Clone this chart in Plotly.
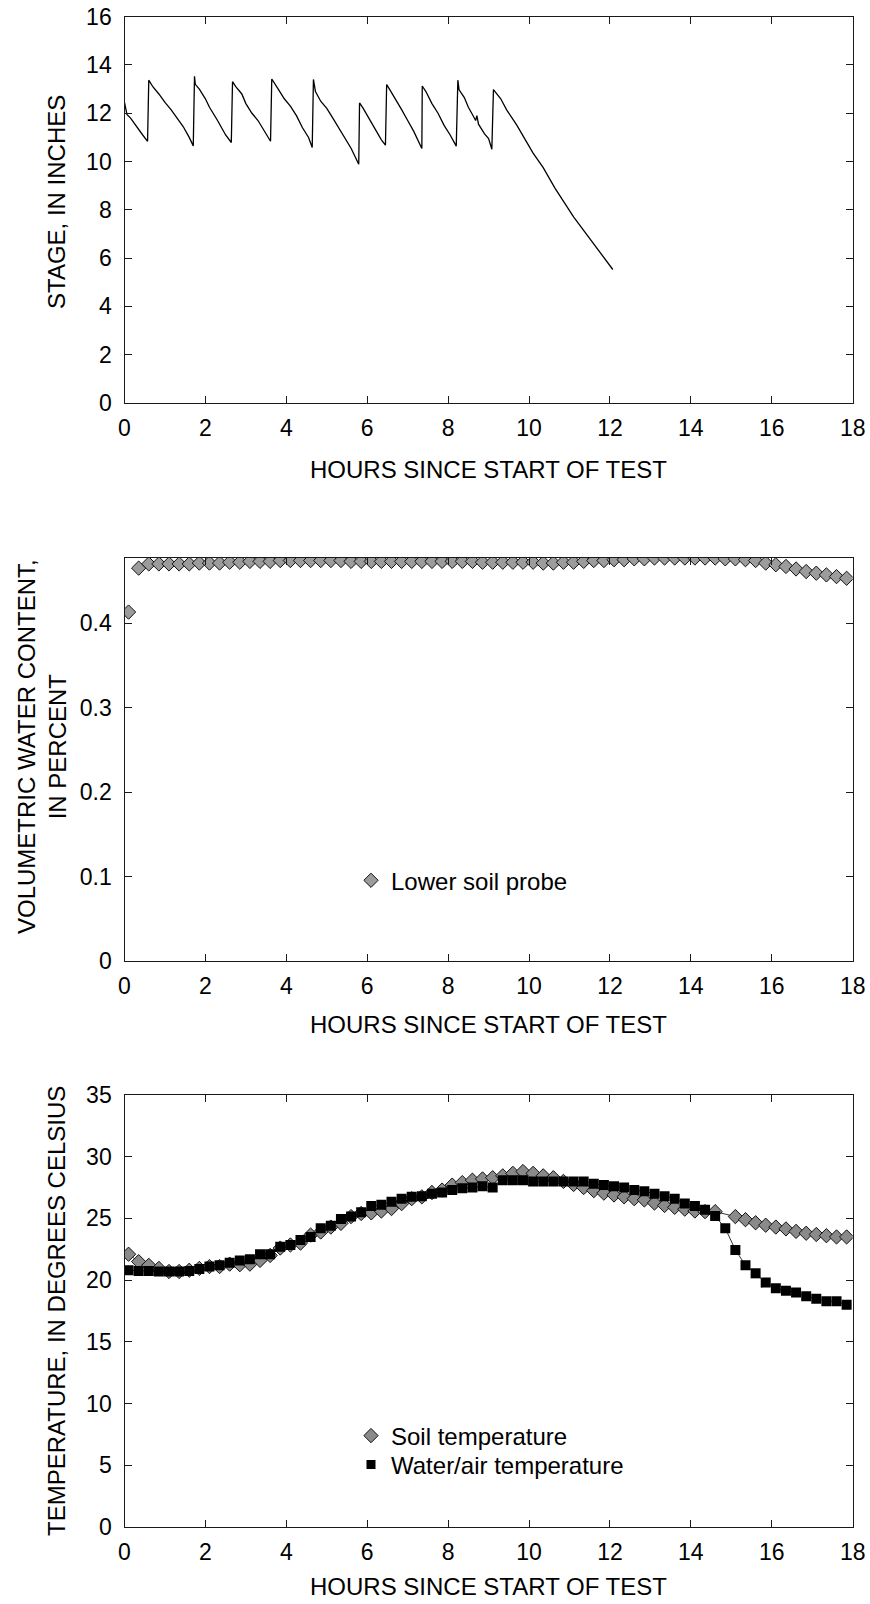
import plotly.graph_objects as go

# ---------------- data ----------------
stage_hours = [0.00, 0.03, 0.06, 0.15, 0.25, 0.35, 0.45, 0.57,
               0.60, 0.70, 0.85, 1.00, 1.15, 1.30, 1.45, 1.60, 1.70,
               1.73, 1.75, 1.85, 2.00, 2.10, 2.20, 2.30, 2.40, 2.50, 2.64,
               2.67, 2.75, 2.90, 3.00, 3.15, 3.30, 3.45, 3.61,
               3.64, 3.68, 3.80, 3.95, 4.10, 4.25, 4.40, 4.55, 4.64,
               4.67, 4.72, 4.85, 5.00, 5.15, 5.30, 5.45, 5.60, 5.79,
               5.81, 5.90, 6.05, 6.20, 6.35, 6.45,
               6.48, 6.55, 6.70, 6.85, 7.00, 7.15, 7.35,
               7.36, 7.45, 7.60, 7.75, 7.90, 8.05, 8.20,
               8.24, 8.27, 8.40, 8.50, 8.60, 8.68, 8.71, 8.75, 8.90, 9.00, 9.08,
               9.12, 9.30, 9.45, 9.70, 9.90, 10.10, 10.35, 10.64, 11.10, 11.59, 12.07]
stage_inches = [12.45, 12.20, 11.95, 11.80, 11.55, 11.35, 11.10, 10.84,
                13.37, 13.10, 12.80, 12.45, 12.15, 11.80, 11.45, 11.00, 10.65,
                13.53, 13.20, 13.00, 12.60, 12.25, 12.00, 11.70, 11.40, 11.10, 10.79,
                13.31, 13.10, 12.80, 12.40, 12.00, 11.70, 11.30, 10.84,
                13.42, 13.30, 13.00, 12.60, 12.30, 11.90, 11.40, 11.00, 10.58,
                13.40, 12.90, 12.50, 12.20, 11.80, 11.40, 11.00, 10.55, 9.89,
                12.43, 12.20, 11.75, 11.30, 10.90, 10.68,
                13.19, 13.00, 12.60, 12.15, 11.70, 11.25, 10.54,
                13.13, 12.90, 12.40, 12.00, 11.50, 11.10, 10.64,
                13.37, 12.97, 12.65, 12.25, 11.95, 11.70, 11.90, 11.55, 11.15, 10.95, 10.51,
                12.98, 12.60, 12.13, 11.50, 10.95, 10.35, 9.75, 8.90, 7.71, 6.61, 5.53]

probe_hours = [0.10, 0.35, 0.60, 0.85, 1.10, 1.35, 1.60, 1.85, 2.10, 2.35, 2.60, 2.85,
               3.10, 3.35, 3.60, 3.85, 4.10, 4.35, 4.60, 4.85, 5.10, 5.35, 5.60, 5.85,
               6.10, 6.35, 6.60, 6.85, 7.10, 7.35, 7.60, 7.85, 8.10, 8.35, 8.60, 8.85,
               9.10, 9.35, 9.60, 9.85, 10.10, 10.35, 10.60, 10.85, 11.10, 11.35, 11.60, 11.85,
               12.10, 12.35, 12.60, 12.85, 13.10, 13.35, 13.60, 13.85, 14.10, 14.35, 14.60, 14.85,
               15.10, 15.35, 15.60, 15.85, 16.10, 16.35, 16.60, 16.85, 17.10, 17.35, 17.60, 17.85]
water_content = [0.413, 0.465, 0.470, 0.470, 0.470, 0.470, 0.470, 0.471, 0.471, 0.471, 0.472, 0.472,
                 0.473, 0.473, 0.473, 0.474, 0.474, 0.474, 0.474, 0.474, 0.474, 0.474, 0.473, 0.473,
                 0.473, 0.473, 0.473, 0.473, 0.473, 0.473, 0.473, 0.473, 0.473, 0.473, 0.473, 0.472,
                 0.472, 0.472, 0.472, 0.472, 0.472, 0.471, 0.471, 0.472, 0.472, 0.473, 0.474, 0.474,
                 0.475, 0.475, 0.476, 0.476, 0.477, 0.477, 0.477, 0.477, 0.477, 0.477, 0.477, 0.476,
                 0.476, 0.475, 0.474, 0.471, 0.469, 0.467, 0.464, 0.461, 0.459, 0.457, 0.455, 0.453]

temp_hours = probe_hours
soil_temp = [22.1, 21.5, 21.2, 20.95, 20.7, 20.7, 20.8, 20.95, 21.1, 21.1, 21.3, 21.25,
             21.3, 21.6, 22.0, 22.6, 22.85, 23.0, 23.65, 23.9, 24.3, 24.6, 25.15, 25.4,
             25.45, 25.6, 25.8, 26.2, 26.6, 26.75, 27.1, 27.3, 27.7, 27.9, 28.1, 28.2,
             28.3, 28.45, 28.65, 28.8, 28.65, 28.45, 28.3, 28.0, 27.75, 27.5, 27.25, 27.05,
             26.9, 26.75, 26.6, 26.5, 26.25, 26.05, 25.9, 25.75, 25.6, 25.55, 25.55, None,
             25.15, 24.9, 24.65, 24.45, 24.3, 24.15, 23.95, 23.8, 23.7, 23.6, 23.5, 23.5]
water_air_temp = [20.8, 20.75, 20.75, 20.7, 20.7, 20.7, 20.75, 20.9, 21.1, 21.2, 21.4, 21.6,
                  21.7, 22.1, 22.1, 22.7, 22.85, 23.25, 23.5, 24.2, 24.4, 24.95, 25.15, 25.5,
                  26.0, 26.1, 26.35, 26.6, 26.75, 26.8, 27.0, 27.1, 27.3, 27.45, 27.5, 27.6,
                  27.5, 28.1, 28.1, 28.1, 28.0, 28.0, 28.0, 28.0, 28.0, 28.0, 27.8, 27.7,
                  27.6, 27.5, 27.3, 27.2, 27.0, 26.8, 26.6, 26.2, 26.0, 25.7, 25.2, 24.2,
                  22.45, 21.2, 20.55, 19.8, 19.35, 19.15, 19.0, 18.7, 18.5, 18.3, 18.3, 18.0]

x_title = "HOURS SINCE START OF TEST"

# ---------------- layout geometry (pixels) ----------------
W, H = 870, 1604
PL, PR = 124.5, 852.7
panels = [(16.7, 403.0), (558.0, 961.0), (1095.0, 1527.0)]

def px_x(x):
    return x / W

def px_y(y):
    return 1 - y / H

FONT = "Liberation Sans, Arial, Helvetica, sans-serif"
AX = "#1a1a1a"
TICK_SIZE = 23
TITLE_SIZE = 24
LEG_SIZE = 24

diamond_mid = dict(symbol="diamond", size=11, color="#9c9c9c",
                   line=dict(color="#111111", width=1))
diamond_bot = dict(symbol="diamond", size=11, color="#8a8a8a",
                   line=dict(color="#111111", width=1))
square_bot = dict(symbol="square", size=10, color="black", line=dict(color="black", width=0))

fig = go.Figure()

fig.add_trace(go.Scatter(x=stage_hours, y=stage_inches, mode="lines",
                         line=dict(color="black", width=1.3),
                         xaxis="x", yaxis="y", showlegend=False))

fig.add_trace(go.Scatter(x=probe_hours, y=water_content, mode="markers",
                         marker=diamond_mid,
                         xaxis="x2", yaxis="y2", showlegend=False))
fig.add_trace(go.Scatter(x=[None], y=[None], mode="markers", name="Lower soil probe",
                         marker=diamond_mid, xaxis="x2", yaxis="y2", legend="legend2"))

fig.add_trace(go.Scatter(x=temp_hours, y=soil_temp, mode="lines+markers",
                         connectgaps=True,
                         line=dict(color="black", width=0.8),
                         marker=diamond_bot,
                         xaxis="x3", yaxis="y3", showlegend=False))
fig.add_trace(go.Scatter(x=temp_hours, y=water_air_temp, mode="lines+markers",
                         line=dict(color="black", width=0.8),
                         marker=square_bot,
                         xaxis="x3", yaxis="y3", showlegend=False))
fig.add_trace(go.Scatter(x=[None], y=[None], mode="markers", name="Soil temperature",
                         marker=diamond_bot, xaxis="x3", yaxis="y3", legend="legend3"))
fig.add_trace(go.Scatter(x=[None], y=[None], mode="markers", name="Water/air temperature",
                         marker=dict(symbol="square", size=9, color="black"),
                         xaxis="x3", yaxis="y3", legend="legend4"))

def xaxis_cfg(anchor):
    return dict(domain=[px_x(PL), px_x(PR)], range=[0, 18], dtick=2, tick0=0,
                anchor=anchor, showline=True, linecolor=AX, linewidth=1.4,
                mirror="ticks", ticks="inside", ticklen=7, tickwidth=1.2, tickcolor=AX,
                showgrid=False, zeroline=False, automargin=False, ticklabelstandoff=4,
                tickfont=dict(family=FONT, size=TICK_SIZE, color="black"))

def yaxis_cfg(anchor, top, bot, rng, dtick):
    return dict(domain=[px_y(bot), px_y(top)], range=rng, dtick=dtick, tick0=0,
                anchor=anchor, showline=True, linecolor=AX, linewidth=1.4,
                mirror="ticks", ticks="inside", ticklen=7, tickwidth=1.2, tickcolor=AX,
                showgrid=False, zeroline=False, ticklabelstandoff=7, automargin=False,
                tickfont=dict(family=FONT, size=TICK_SIZE, color="black"))

def legend_cfg(ycenter):
    return dict(x=px_x(351), y=px_y(ycenter), xanchor="left", yanchor="middle",
                bgcolor="rgba(0,0,0,0)", borderwidth=0,
                font=dict(family=FONT, size=LEG_SIZE, color="black"))

fig.update_layout(
    template="none",
    width=W, height=H,
    margin=dict(l=0, r=0, t=0, b=0, pad=0, autoexpand=False),
    paper_bgcolor="white", plot_bgcolor="white",
    font=dict(family=FONT, size=20, color="black"),
    xaxis=xaxis_cfg("y"),
    yaxis=yaxis_cfg("x", panels[0][0], panels[0][1], [0, 16], 2),
    xaxis2=xaxis_cfg("y2"),
    yaxis2=yaxis_cfg("x2", panels[1][0], panels[1][1], [0, 0.477], 0.1),
    xaxis3=xaxis_cfg("y3"),
    yaxis3=yaxis_cfg("x3", panels[2][0], panels[2][1], [0, 35], 5),
    legend2=legend_cfg(880.7),
    legend3=legend_cfg(1436),
    legend4=legend_cfg(1465),
)

cx = px_x((PL + PR) / 2)
ann = []
for yy in (469, 1024, 1586):
    ann.append(dict(text=x_title, x=cx, y=px_y(yy), xref="paper", yref="paper",
                    xanchor="center", yanchor="middle", showarrow=False,
                    font=dict(family=FONT, size=TITLE_SIZE, color="black")))
ann.append(dict(text="STAGE, IN INCHES", x=px_x(57), y=px_y(202), textangle=-90,
                xref="paper", yref="paper", xanchor="center", yanchor="middle",
                showarrow=False, font=dict(family=FONT, size=TITLE_SIZE, color="black")))
ann.append(dict(text="VOLUMETRIC WATER CONTENT,<br>IN PERCENT", x=px_x(42), y=px_y(747),
                textangle=-90, xref="paper", yref="paper", xanchor="center",
                yanchor="middle", showarrow=False,
                font=dict(family=FONT, size=TITLE_SIZE, color="black")))
ann.append(dict(text="TEMPERATURE, IN DEGREES CELSIUS", x=px_x(56), y=px_y(1311),
                textangle=-90, xref="paper", yref="paper", xanchor="center",
                yanchor="middle", showarrow=False,
                font=dict(family=FONT, size=TITLE_SIZE, color="black")))
fig.update_layout(annotations=ann)

fig.write_html("out.html")
